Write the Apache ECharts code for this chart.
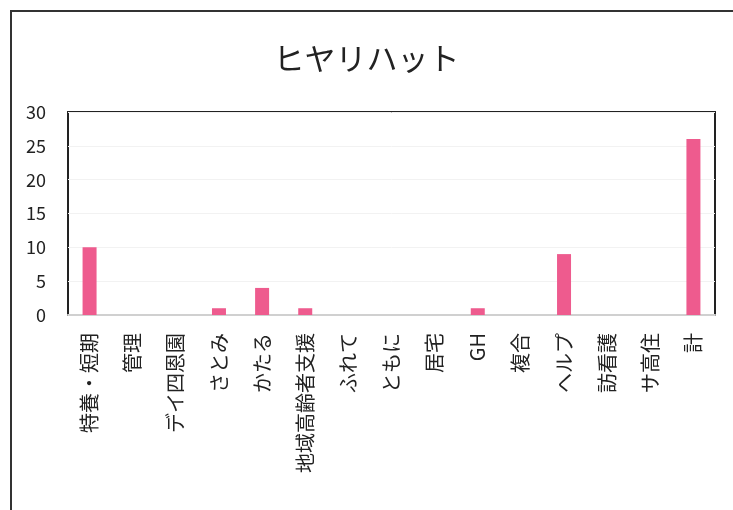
<!DOCTYPE html>
<html>
<head>
<meta charset="utf-8">
<script src="https://cdn.jsdelivr.net/npm/echarts@6/dist/echarts.min.js"></script>
<style>
  html, body { margin: 0; padding: 0; background: #fff; }
  #chart { width: 733px; height: 510px; }
</style>
</head>
<body>
<div id="chart"></div>
<script>
const categories = ['特養・短期', '管理', 'デイ四恩園', 'さとみ', 'かたる', '地域高齢者支援', 'ふれて', 'ともに', '居宅', 'GH', '複合', 'ヘルプ', '訪看護', 'サ高住', '計']
const counts = [10, 0, 0, 1, 4, 1, 0, 0, 0, 1, 0, 9, 0, 0, 26]
const titleText = 'ヒヤリハット'

const font = '"Noto Sans CJK JP", "Noto Sans", sans-serif'
const chart = echarts.init(document.getElementById('chart'))

chart.setOption({
  animation: false,
  title: {
    text: titleText,
    left: 'center',
    top: 38,
    textStyle: { fontFamily: font, fontSize: 31, fontWeight: 'normal', color: '#222' }
  },
  graphic: [{
    type: 'rect',
    shape: { x: 11, y: 11, width: 760, height: 540 },
    style: { fill: null, stroke: '#333', lineWidth: 2 },
    silent: true
  }],
  grid: {
    left: 68, right: 18, top: 112, bottom: 195,
    show: true,
    borderColor: '#222',
    borderWidth: 2
  },
  xAxis: {
    type: 'category',
    data: categories,
    axisLine: { lineStyle: { color: '#d0d0d0', width: 2 } },
    axisTick: { show: false },
    axisLabel: {
      rotate: 90,
      interval: 0,
      margin: 18,
      fontFamily: font,
      fontSize: 20,
      color: '#222'
    }
  },
  yAxis: {
    type: 'value',
    min: 0, max: 30, interval: 5,
    axisLine: { show: false },
    axisTick: { show: false },
    splitLine: { lineStyle: { color: '#f2f2f2', width: 1 } },
    axisLabel: { fontFamily: font, fontSize: 18, color: '#222', margin: 22 }
  },
  series: [{
    type: 'bar',
    data: counts,
    barWidth: 14,
    itemStyle: { color: '#ee5b8e' }
  }]
})
</script>
</body>
</html>
